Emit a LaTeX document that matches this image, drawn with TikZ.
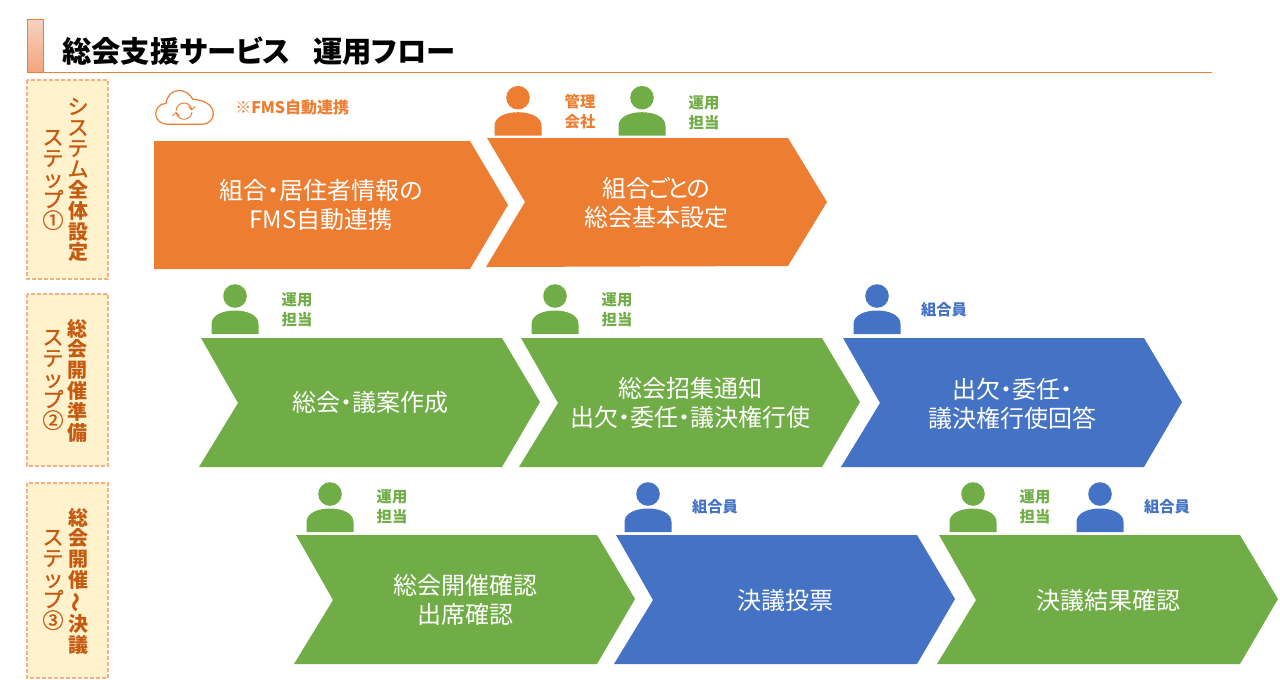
\documentclass[tikz,border=0pt]{standalone}
\usepackage{fontspec}
\usepackage{graphicx}
\setmainfont{Noto Sans CJK JP}[RawFeature=+palt]
\newfontfamily\fullw{Noto Sans CJK JP}
\newfontfamily\medw{Noto Sans CJK JP}[FakeBold=1.3]
\definecolor{cOrange}{HTML}{ED7D31}
\definecolor{cGreen}{HTML}{70AD47}
\definecolor{cBlue}{HTML}{4472C4}
\definecolor{cBrown}{HTML}{C55A11}
\definecolor{cPale}{HTML}{FFF2CC}
\definecolor{cDash}{HTML}{F4B183}
\definecolor{cBarTop}{HTML}{F5D2C4}
\definecolor{cBarBot}{HTML}{F4A57C}
\tikzset{
  x=0.75pt,y=-0.75pt,
  chev/.style={draw=none},
  chevtext/.style={text=white,align=center,font=\fontsize{18}{22}\selectfont,inner sep=0pt},
  stepbox/.style={fill=cPale,draw=cDash,line width=1.1pt,dash pattern=on 3pt off 1.5pt},
  vtext/.style={text=cBrown,align=center,font=\fullw\bfseries\fontsize{15}{15.6}\selectfont,inner sep=0pt},
  vkana/.style={text=cBrown,align=center,font=\medw\fontsize{15.8}{15.6}\selectfont,inner sep=0pt},
  rolelabel/.style={align=center,font=\bfseries\fontsize{11.5}{15}\selectfont,inner sep=0pt},
  person/.pic={
    \fill[pic actions] (0,0) circle (11.8);
    \fill[pic actions] (-23.5,38) -- (-23.5,28) .. controls (-23.5,19) and (-12,14.5) .. (0,14.5)
      .. controls (12,14.5) and (23.5,19) .. (23.5,28) -- (23.5,38) -- cycle;
  }
}
\begin{document}
\begin{tikzpicture}
\useasboundingbox (0,0) rectangle (1280,679);
% title
\shade[top color=cBarTop,bottom color=cBarBot] (27,19) rectangle (43,72);
\draw[cOrange,line width=0.75pt] (27,19) rectangle (43,72);
\draw[cOrange,line width=0.75pt] (27,72) -- (1212,72);
\node[anchor=west,inner sep=0pt,font=\bfseries\fontsize{22}{24}\selectfont] (title) at (62,51.5) {総会支援サービス\hspace{17pt}運用フロー};
% step boxes
\draw[stepbox] (27,80) rectangle (108,279);
\draw[stepbox] (27,294) rectangle (108,466);
\draw[stepbox] (27,483) rectangle (108,678);
\node[vkana] (s1a) at (78,180) {シ\\ス\\テ\\ム\\{\fullw\bfseries\fontsize{15}{15.6}\selectfont 全}\\{\fullw\bfseries\fontsize{15}{15.6}\selectfont 体}\\{\fullw\bfseries\fontsize{15}{15.6}\selectfont 設}\\{\fullw\bfseries\fontsize{15}{15.6}\selectfont 定}};
\node[vkana] (s1b) at (53,180) {ス\\テ\\ッ\\プ\\①};
\node[vtext] (s2a) at (77,380.5) {総\\会\\開\\催\\準\\備};
\node[vkana] (s2b) at (53,380) {ス\\テ\\ッ\\プ\\②};
\node[vtext] (s3a) at (78,581) {総\\会\\開\\催\\\rotatebox[origin=c]{90}{〜}\\決\\議};
\node[vkana] (s3b) at (53,580) {ス\\テ\\ッ\\プ\\③};
% row 1
\fill[cOrange,chev] (154,141) -- (470,141) -- (508,205) -- (470,269) -- (154,269) -- cycle;
\fill[cOrange,chev] (487,138) -- (788,138) -- (827,202) -- (788,266) -- (486,267) -- (525,202) -- cycle;
\node[chevtext] (a1) at (321,205) {組合・居住者情報の\\FMS自動連携};
\node[chevtext] (a2) at (656,203) {組合\hspace{-1.4pt}ご\hspace{-1.4pt}と\hspace{-1.4pt}の\\総会基本設定};
% row 2
\fill[cGreen,chev] (201,338) -- (502,338) -- (540,402) -- (502,467) -- (199,467) -- (238,403) -- cycle;
\fill[cGreen,chev] (521,338) -- (822,338) -- (860,402) -- (822,467) -- (519,467) -- (558,403) -- cycle;
\fill[cBlue,chev] (843,338) -- (1144,338) -- (1182,402) -- (1144,467) -- (841,467) -- (880,403) -- cycle;
\node[chevtext] (b1) at (370,402) {総会・議案作成};
\node[chevtext] (b2) at (690,403) {総会招集通知\\出欠・委任・議決権行使};
\node[chevtext] (b3) at (1012,404) {出欠・委任・\\議決権行使回答};
% row 3
\fill[cGreen,chev] (296,535) -- (597,535) -- (635,599) -- (597,664) -- (294,664) -- (333,600) -- cycle;
\fill[cBlue,chev] (616,535) -- (917,535) -- (955,599) -- (917,664) -- (614,664) -- (653,600) -- cycle;
\fill[cGreen,chev] (939,535) -- (1240,535) -- (1278,599) -- (1240,664) -- (937,664) -- (976,600) -- cycle;
\node[chevtext] (c1) at (465,600) {総会開催確認\\出席確認};
\node[chevtext] (c2) at (785,600) {決議投票};
\node[chevtext] (c3) at (1108,600) {決議結果確認};
% people
\pic[fill=cOrange] at (518,97.7) {person};
\pic[fill=cGreen] at (642,97.7) {person};
\pic[fill=cGreen] at (235,296) {person};
\pic[fill=cGreen] at (555,296) {person};
\pic[fill=cBlue] at (877,296) {person};
\pic[fill=cGreen] at (330,494) {person};
\pic[fill=cBlue] at (648,494) {person};
\pic[fill=cGreen] at (973,494) {person};
\pic[fill=cBlue] at (1100,494) {person};
% role labels
\node[rolelabel,text=cOrange] (r1) at (580,112) {管理\\会社};
\node[rolelabel,text=cGreen] (r2) at (704,113) {運用\\担当};
\node[rolelabel,text=cGreen] (r3) at (297,310) {運用\\担当};
\node[rolelabel,text=cGreen] (r4) at (617,310) {運用\\担当};
\node[rolelabel,text=cBlue] (r5) at (944,310) {組合員};
\node[rolelabel,text=cGreen] (r6) at (392,507) {運用\\担当};
\node[rolelabel,text=cBlue] (r7) at (715,507) {組合員};
\node[rolelabel,text=cGreen] (r8) at (1035,507) {運用\\担当};
\node[rolelabel,text=cBlue] (r9) at (1167,507) {組合員};
\node[rolelabel,text=cOrange,anchor=west,font=\bfseries\fontsize{12}{15}\selectfont] (fms) at (235,107) {※FMS自動連携};
% cloud
\draw[cOrange,line width=0.9pt,line join=round]
  (168,124.3) .. controls (161,124.3) and (155.7,120) .. (155.7,114)
  .. controls (155.7,108) and (160,103.5) .. (166,103.5)
  .. controls (167,95.5) and (172,90.5) .. (179,90.5)
  .. controls (185,90.5) and (190,94) .. (193,99.5)
  .. controls (204,99.5) and (213.3,105) .. (213.3,114)
  .. controls (213.3,120) and (208,124.3) .. (202,124.3) -- cycle;
\draw[cOrange,line width=0.7pt] (176,111) arc (180:345:8);
\draw[cOrange,line width=0.7pt] (192,112) arc (5:170:8);
\draw[cOrange,line width=0.7pt] (188.5,106.5) -- (191.8,110) -- (195.3,106.5);
\draw[cOrange,line width=0.7pt] (172.5,116) -- (176,112.5) -- (179.5,116);
\end{tikzpicture}
\end{document}
